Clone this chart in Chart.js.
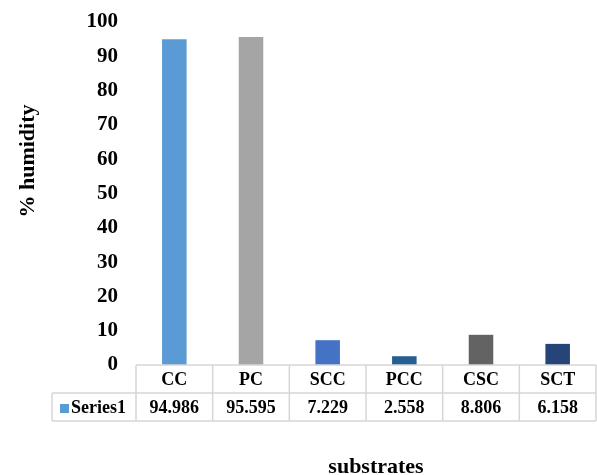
<!DOCTYPE html>
<html>
<head>
<meta charset="utf-8">
<script src="https://cdn.jsdelivr.net/npm/chart.js@4/dist/chart.umd.min.js"></script>
<style>
  html, body { margin: 0; padding: 0; background: #ffffff; }
  #wrap { width: 597px; height: 475px; }
</style>
</head>
<body>
<div id="wrap"><canvas id="chart" width="597" height="475"></canvas></div>
<script>
// Humidity measured on each substrate
const categories = ['CC', 'PC', 'SCC', 'PCC', 'CSC', 'SCT'];
const humidity = [94.986, 95.595, 7.229, 2.558, 8.806, 6.158];
const seriesName = 'Series1';
const yAxisTitle = '% humidity';
const xAxisTitle = 'substrates';
const yMin = 0, yMax = 100, yStep = 10;

const barColors = ['#5B9BD5', '#A5A5A5', '#4472C4', '#255E91', '#636363', '#264478'];
const serif = '"Liberation Serif", "Times New Roman", serif';
const gridColor = '#D6D6D6';

// Data table under the plot: category row, value row, plus axis titles
const dataTablePlugin = {
  id: 'dataTable',
  afterDraw(chart) {
    const ctx = chart.ctx;
    const x = chart.scales.x;
    const area = chart.chartArea;
    const n = categories.length;
    const colW = (area.right - area.left) / n;
    const top = area.bottom;
    const rowH = 28;
    const mid = top + rowH;
    const bottom = top + 2 * rowH;
    const labelLeft = 52;

    ctx.save();
    ctx.strokeStyle = gridColor;
    ctx.lineWidth = 1.5;
    ctx.beginPath();
    // horizontal rules
    ctx.moveTo(area.left, top); ctx.lineTo(area.right, top);
    ctx.moveTo(labelLeft, mid); ctx.lineTo(area.right, mid);
    ctx.moveTo(labelLeft, bottom); ctx.lineTo(area.right, bottom);
    // vertical rules
    ctx.moveTo(labelLeft, mid); ctx.lineTo(labelLeft, bottom);
    for (let i = 0; i <= n; i++) {
      const vx = area.left + i * colW;
      ctx.moveTo(vx, top); ctx.lineTo(vx, bottom);
    }
    ctx.stroke();

    ctx.fillStyle = '#000000';
    ctx.font = 'bold 18px ' + serif;
    ctx.textAlign = 'center';
    ctx.textBaseline = 'middle';
    categories.forEach((c, i) => {
      const cx = x.getPixelForValue(i);
      ctx.fillText(c, cx, top + rowH / 2 + 1);
      ctx.fillText(humidity[i].toFixed(3), cx, mid + rowH / 2 + 1);
    });

    // series key + name
    ctx.fillStyle = barColors[0];
    ctx.fillRect(60, mid + 11, 9, 9);
    ctx.fillStyle = '#000000';
    ctx.textAlign = 'left';
    ctx.fillText(seriesName, 71, mid + rowH / 2 + 1);

    // axis titles
    ctx.font = 'bold 22px ' + serif;
    ctx.textAlign = 'center';
    ctx.textBaseline = 'alphabetic';
    ctx.fillText(xAxisTitle, 376, 473);

    ctx.translate(28, 161);
    ctx.rotate(-Math.PI / 2);
    ctx.textBaseline = 'middle';
    ctx.fillText(yAxisTitle, 0, 0);
    ctx.restore();
  }
};

new Chart(document.getElementById('chart'), {
  type: 'bar',
  data: {
    labels: categories,
    datasets: [{
      label: seriesName,
      data: humidity,
      backgroundColor: barColors,
      borderWidth: 0,
      barPercentage: 0.32,
      categoryPercentage: 1.0
    }]
  },
  options: {
    responsive: false,
    animation: false,
    devicePixelRatio: 1,
    layout: { padding: { top: 22, right: 1, bottom: 110, left: 0 } },
    plugins: {
      legend: { display: false },
      tooltip: { enabled: false }
    },
    scales: {
      x: {
        display: false,
        offset: true
      },
      y: {
        min: yMin,
        max: yMax,
        grid: { display: false, drawTicks: false },
        border: { display: false },
        ticks: {
          stepSize: yStep,
          padding: 18,
          color: '#000000',
          font: { family: serif, size: 21, weight: 'bold' }
        },
        afterFit(scale) {
          scale.width = 136;
          scale.paddingTop = 0;
          scale.paddingBottom = 0;
        }
      }
    }
  },
  plugins: [dataTablePlugin]
});
</script>
</body>
</html>
